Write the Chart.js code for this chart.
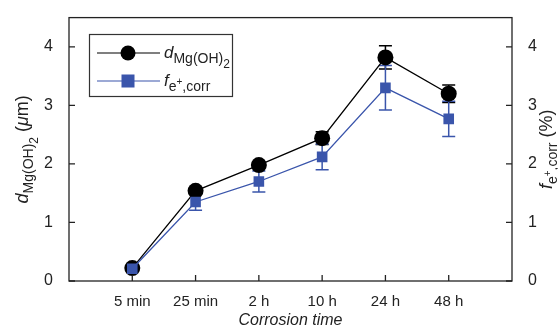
<!DOCTYPE html>
<html><head><meta charset="utf-8">
<script src="https://cdn.jsdelivr.net/npm/chart.js@4/dist/chart.umd.min.js"></script>
<style>html,body{margin:0;padding:0;background:#fff;}#wrap{width:558px;height:330px;position:relative;}</style>
</head><body><div id="wrap"><canvas id="c" width="558" height="330"></canvas></div>
<script>
const categories = ['5 min', '25 min', '2 h', '10 h', '24 h', '48 h'];
const dValues = [0.22, 1.54, 1.98, 2.44, 3.82, 3.20];
const dErrors = [0.03, 0.05, 0.05, 0.11, 0.20, 0.15];
const fValues = [0.21, 1.35, 1.70, 2.12, 3.30, 2.77];
const fErrors = [0.03, 0.14, 0.18, 0.22, 0.38, 0.30];
const yTicks = [0, 1, 2, 3, 4];
const xTitle = 'Corrosion time';

const BLUE = '#3a55ab';
const FONT = '"Liberation Sans", Arial, sans-serif';

function pts(vals){ return vals.map((v,i)=>({x:i+1, y:v})); }

const errPlugin = {
  id:'err',
  beforeDatasetsDraw(chart){
    const ctx = chart.ctx;
    const sets = [{ds:1, err:dErrors, col:'#000', axis:'y'}, {ds:0, err:fErrors, col:BLUE, axis:'y2'}];
    sets.forEach(s=>{
      const data = chart.data.datasets[s.ds].data;
      const xs = chart.scales.x, ys = chart.scales[s.axis];
      ctx.save(); ctx.strokeStyle = s.col; ctx.lineWidth = 1.5;
      data.forEach((p,i)=>{
        const x = xs.getPixelForValue(p.x);
        const y1 = ys.getPixelForValue(p.y + s.err[i]);
        const y0 = ys.getPixelForValue(p.y - s.err[i]);
        ctx.beginPath(); ctx.moveTo(x,y0); ctx.lineTo(x,y1);
        ctx.moveTo(x-6.5,y0); ctx.lineTo(x+6.5,y0);
        ctx.moveTo(x-6.5,y1); ctx.lineTo(x+6.5,y1); ctx.stroke();
      });
      ctx.restore();
    });
  }
};

function drawRich(ctx, parts){
  // parts: [text, font, dy]
  let x = 0;
  parts.forEach(p=>{ ctx.font = p[1]; ctx.fillText(p[0], x, p[2]); x += ctx.measureText(p[0]).width; });
}
function richWidth(ctx, parts){
  let w=0; parts.forEach(p=>{ctx.font=p[1]; w+=ctx.measureText(p[0]).width;}); return w;
}

const framePlugin = {
  id:'frame',
  afterDraw(chart){
    const ctx = chart.ctx, a = chart.chartArea;
    ctx.save();
    ctx.strokeStyle = '#222'; ctx.lineWidth = 1.3;
    ctx.strokeRect(a.left, a.top, a.right-a.left, a.bottom-a.top);
    // inward ticks
    const xs = chart.scales.x, ys = chart.scales.y, y2 = chart.scales.y2;
    ctx.beginPath();
    xs.ticks.forEach(t=>{ const x = xs.getPixelForValue(t.value); ctx.moveTo(x,a.bottom); ctx.lineTo(x,a.bottom-6); });
    ys.ticks.forEach(t=>{ const y = ys.getPixelForValue(t.value); ctx.moveTo(a.left,y); ctx.lineTo(a.left+6,y); });
    y2.ticks.forEach(t=>{ const y = y2.getPixelForValue(t.value); ctx.moveTo(a.right,y); ctx.lineTo(a.right-6,y); });
    ctx.stroke();

    ctx.fillStyle = '#222'; ctx.textBaseline = 'alphabetic';
    // x title
    ctx.font = 'italic 16px ' + FONT; ctx.textAlign = 'center';
    ctx.fillText(xTitle, (a.left+a.right)/2, 325);
    ctx.textAlign = 'left';
    const cy = (a.top+a.bottom)/2;
    // left y title
    const lparts = [['d','italic 18px '+FONT,0],['Mg(OH)','14px '+FONT,5],['2','12px '+FONT,10],[' (','18px '+FONT,0],['\u03bc','italic 18px '+FONT,0],['m)','18px '+FONT,0]];
    ctx.save(); ctx.translate(28, cy); ctx.rotate(-Math.PI/2);
    ctx.translate(-richWidth(ctx,lparts)/2, 0); drawRich(ctx, lparts); ctx.restore();
    // right y title
    const rparts = [['f','italic 18px '+FONT,0],['e','14px '+FONT,5],['+','10px '+FONT,-1],[',corr','14px '+FONT,5],[' (%)','18px '+FONT,0]];
    ctx.save(); ctx.translate(552, cy); ctx.rotate(-Math.PI/2);
    ctx.translate(-richWidth(ctx,rparts)/2, 0); drawRich(ctx, rparts); ctx.restore();

    // legend
    ctx.lineWidth = 1.2; ctx.strokeStyle = '#333';
    ctx.strokeRect(89.5, 34.5, 143, 62);
    const rows = [{y:53, col:'#000', shape:'c', parts:[['d','italic 17px '+FONT,0],['Mg(OH)','14px '+FONT,5],['2','12px '+FONT,10]]},
                  {y:81, col:BLUE, shape:'s', parts:[['f','italic 17px '+FONT,0],['e','14px '+FONT,5],['+','10px '+FONT,-1],[',corr','14px '+FONT,5]]}];
    rows.forEach(r=>{
      ctx.strokeStyle = r.col; ctx.lineWidth = 1.2;
      ctx.beginPath(); ctx.moveTo(97, r.y); ctx.lineTo(160, r.y); ctx.stroke();
      ctx.fillStyle = r.col;
      if (r.shape==='c'){ ctx.beginPath(); ctx.arc(128, r.y, 7.5, 0, Math.PI*2); ctx.fill(); }
      else { ctx.fillRect(121.5, r.y-6.5, 13, 13); }
      ctx.fillStyle = '#222';
      ctx.save(); ctx.translate(164, r.y+5); drawRich(ctx, r.parts); ctx.restore();
    });
    ctx.restore();
  }
};

new Chart(document.getElementById('c'), {
  type:'line',
  data:{ datasets:[
    { label:'f_e+,corr', data:pts(fValues), yAxisID:'y2', borderColor:BLUE, backgroundColor:BLUE, borderWidth:1.3,
      pointStyle:'rect', pointRadius:7.5, pointHoverRadius:7.5, pointBorderWidth:0, order:0 },
    { label:'d_Mg(OH)2', data:pts(dValues), yAxisID:'y', borderColor:'#000', backgroundColor:'#000', borderWidth:1.3,
      pointStyle:'circle', pointRadius:8, pointHoverRadius:8, pointBorderWidth:0, order:1 }
  ]},
  options:{
    responsive:false, animation:false, events:[],
    layout:{ padding:{ top:14, left:0, right:0, bottom:0 } },
    plugins:{ legend:{display:false}, tooltip:{enabled:false} },
    scales:{
      x:{ type:'linear', min:0, max:7, grid:{display:false}, border:{display:false},
          afterBuildTicks(s){ s.ticks = categories.map((c,i)=>({value:i+1})); },
          afterFit(s){ s.height = 49; },
          ticks:{ callback:(v)=>categories[v-1], color:'#222', font:{family:FONT,size:15}, padding:4, maxRotation:0, autoSkip:false } },
      y:{ position:'left', min:0, max:4.5, grid:{display:false}, border:{display:false},
          afterBuildTicks(s){ s.ticks = yTicks.map(v=>({value:v})); },
          afterFit(s){ s.width = 69; },
          ticks:{ color:'#222', font:{family:FONT,size:16}, padding:8 } },
      y2:{ position:'right', min:0, max:4.5, grid:{display:false}, border:{display:false},
          afterBuildTicks(s){ s.ticks = yTicks.map(v=>({value:v})); },
          afterFit(s){ s.width = 46; },
          ticks:{ color:'#222', font:{family:FONT,size:16}, padding:8 } }
    }
  },
  plugins:[errPlugin, framePlugin]
});
</script></body></html>
